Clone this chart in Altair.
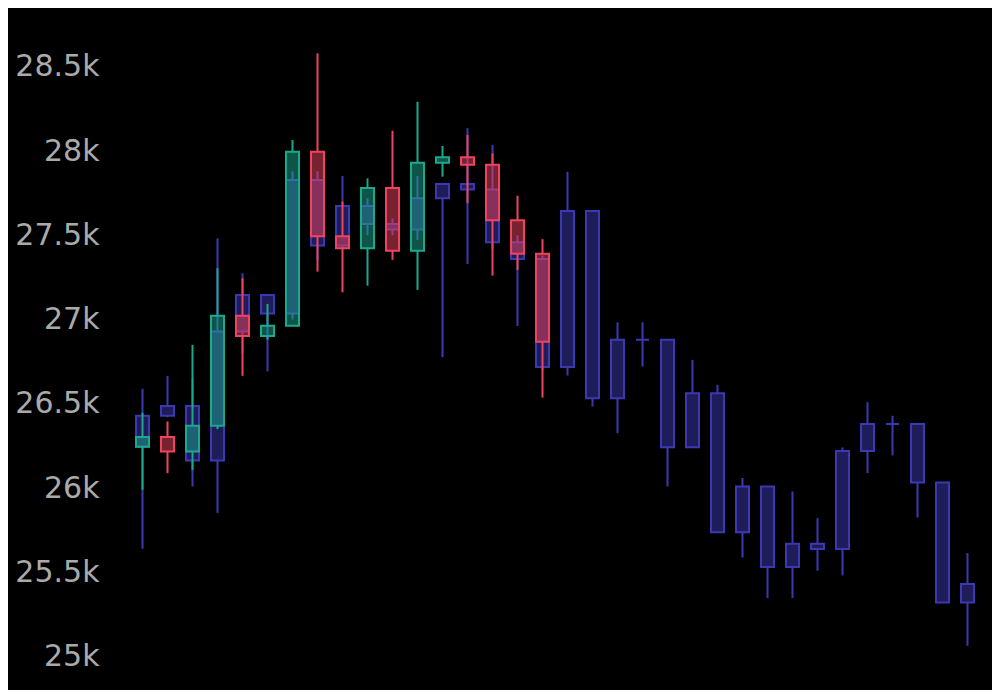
import altair as alt
import pandas as pd

# ---- data ----
navy_open = [26245, 26430, 26488, 26164, 26929, 27146, 27036, 27828, 27440, 27674,
             27567, 27534, 27720, 27804, 27772, 27459, 27360, 26718, 27644, 26534,
             26880, 26880, 26243, 26563, 25739, 26010, 25532, 25670, 25639, 26221,
             26380, 26380, 26034, 25322]
navy_close = [26430, 26488, 26164, 26929, 27146, 27036, 27828, 27440, 27674, 27567,
              27534, 27720, 27804, 27772, 27459, 27360, 26718, 27644, 26534, 26880,
              26880, 26243, 26563, 25739, 26010, 25532, 25670, 25639, 26221, 26380,
              26380, 26034, 25322, 25431]
navy_high = [26589, 26666, 26650, 27482, 27275, 27146, 27880, 27880, 27852, 27720,
             27600, 27852, 27810, 28135, 28036, 27500, 27380, 27877, 27644, 26984,
             26984, 26880, 26761, 26613, 26060, 26010, 25980, 25822, 26241, 26510,
             26429, 26380, 26034, 25615]
navy_low = [25640, 26420, 26010, 25852, 26800, 26692, 27000, 27350, 27420, 27500,
            27500, 27472, 26777, 27330, 27420, 26962, 26700, 26668, 26484, 26326,
            26721, 26010, 26243, 25739, 25589, 25348, 25348, 25510, 25482, 26089,
            26194, 25826, 25322, 25065]

col_open = [26245, 26304, 26217, 26370, 27022, 26903, 26964, 27996, 27495, 27423,
            27781, 27408, 27930, 27963, 27918, 27589, 27391]
col_close = [26304, 26217, 26370, 27022, 26903, 26964, 27996, 27495, 27423, 27781,
             27408, 27930, 27963, 27918, 27589, 27391, 26869]
col_high = [26447, 26395, 26850, 27305, 27245, 27093, 28065, 28579, 27700, 27838,
            28120, 28292, 28030, 28095, 27986, 27735, 27477]
col_low = [25990, 26089, 26109, 26350, 26666, 26880, 26962, 27284, 27162, 27201,
           27354, 27176, 27848, 27690, 27261, 27295, 26537]

y_ticks = [25000, 25500, 26000, 26500, 27000, 27500, 28000, 28500]

NAVY = "#3c38b2"
GREEN = "#1ba98e"
RED = "#f0435f"


def frame(o, h, l, c):
    df = pd.DataFrame({"i": list(range(len(o))), "open": o, "high": h, "low": l, "close": c})
    df["body_lo"] = df[["open", "close"]].min(axis=1)
    df["body_hi"] = df[["open", "close"]].max(axis=1)
    df["dir"] = ["up" if cc >= oo else "down" for oo, cc in zip(o, c)]
    return df


navy = frame(navy_open, navy_high, navy_low, navy_close)
col = frame(col_open, col_high, col_low, col_close)

x_enc = alt.X("i:Q", axis=None,
              scale=alt.Scale(domain=[-0.5, 33.5], nice=False, zero=False, padding=0))
y_scale = alt.Scale(domain=[24850, 28700], nice=False, zero=False, padding=0)
y_axis = alt.Axis(values=y_ticks, format="~s", labelFont="DejaVu Sans", labelFontSize=30,
                  labelColor="#aaaaaa", ticks=False, domain=False, grid=False,
                  labelPadding=31, title=None)


def candles(df, color_enc):
    base = alt.Chart(df).encode(x=x_enc)
    up = base.mark_rule(strokeWidth=2).encode(
        y=alt.Y("body_hi:Q", scale=y_scale, axis=y_axis), y2="high:Q", color=color_enc)
    dn = base.mark_rule(strokeWidth=2).encode(
        y=alt.Y("low:Q", scale=y_scale), y2="body_lo:Q", color=color_enc)
    body = base.mark_bar(size=13, strokeWidth=2, fillOpacity=0.5, strokeOpacity=1).encode(
        y=alt.Y("body_lo:Q", scale=y_scale), y2="body_hi:Q", color=color_enc,
        stroke=color_enc)
    return [up, dn, body]


navy_color = alt.value(NAVY)
col_color = alt.Color("dir:N", scale=alt.Scale(domain=["up", "down"], range=[GREEN, RED]),
                      legend=None)

layers = candles(navy, navy_color) + candles(col, col_color)

chart = alt.layer(*layers).properties(
    width=850, height=649,
    background="#000000",
    padding={"left": 122, "top": 25, "right": 12, "bottom": 8},
    autosize=alt.AutoSizeParams(type="none"),
).configure_view(stroke=None)

chart.save("out.html", embed_options={"renderer": "svg", "actions": False})
